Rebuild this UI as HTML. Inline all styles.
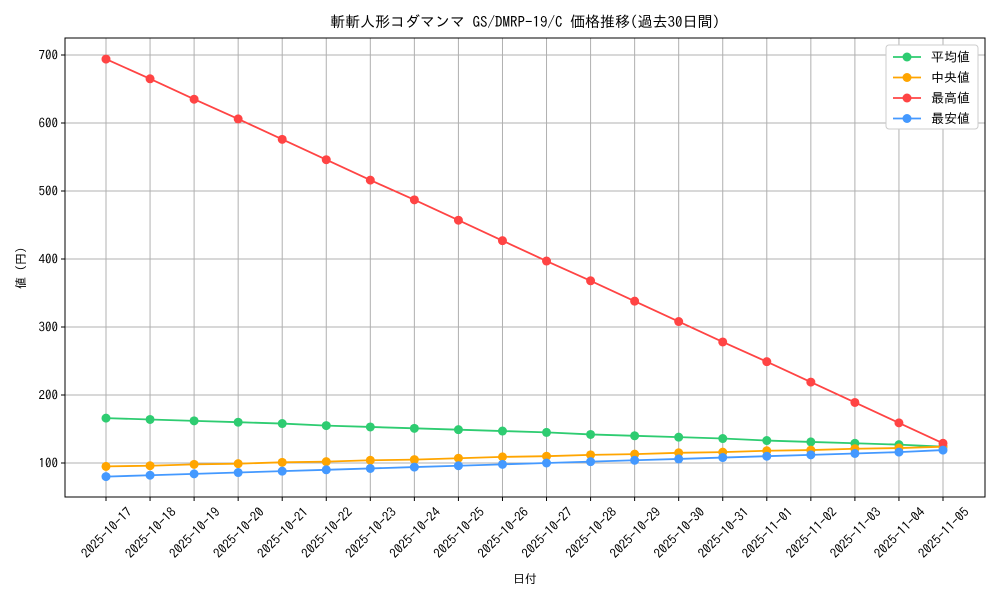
<!DOCTYPE html>
<html><head><meta charset="utf-8"><style>
body{margin:0;background:#fff;}
svg text{font-family:"IPAGothic","Noto Sans CJK JP",sans-serif;fill:#000;}
</style></head><body>
<svg id="chart" width="1000" height="600" xmlns="http://www.w3.org/2000/svg"></svg>
<script>
const dates=["2025-10-17","2025-10-18","2025-10-19","2025-10-20","2025-10-21","2025-10-22","2025-10-23","2025-10-24","2025-10-25","2025-10-26","2025-10-27","2025-10-28","2025-10-29","2025-10-30","2025-10-31","2025-11-01","2025-11-02","2025-11-03","2025-11-04","2025-11-05"];
const avgVals=[166,164,162,160,158,155,153,151,149,147,145,142,140,138,136,133,131,129,127,124];
const medVals=[95,96,98,99,101,102,104,105,107,109,110,112,113,115,116,118,119,121,122,124];
const maxVals=[694,665,635,606,576,546,516,487,457,427,397,368,338,308,278,249,219,189,159,129];
const minVals=[80,82,84,86,88,90,92,94,96,98,100,102,104,106,108,110,112,114,116,119];
const yTicks=[100,200,300,400,500,600,700];
const seriesNames=["平均値","中央値","最高値","最安値"];
const svg=document.getElementById('chart');
const NS="http://www.w3.org/2000/svg";
const L=65,R=985,T=38,B=497;
const x=i=>106+i*(943-106)/(dates.length-1);
const y=v=>463-(v-100)*0.68;
function mk(tag,attrs,parent){const e=document.createElementNS(NS,tag);for(const k in attrs)e.setAttribute(k,attrs[k]);(parent||svg).appendChild(e);return e;}
dates.forEach((d,i)=>{const g=mk('line',{x1:x(i),x2:x(i),y1:T,y2:B,stroke:'#b0b0b0','stroke-width':1});


mk('line',{x1:x(i),x2:x(i),y1:B,y2:B+4,stroke:'#000'});
const cx=x(i)+1,cy=533;
const t=mk('text',{x:cx,y:cy+4,'font-size':13,'text-anchor':'middle',transform:`rotate(-45 ${cx} ${cy})`});t.textContent=d;

});
yTicks.forEach(v=>{const g=mk('line',{x1:L,x2:R,y1:y(v),y2:y(v),stroke:'#b0b0b0','stroke-width':1});


mk('line',{x1:L-4,x2:L,y1:y(v),y2:y(v),stroke:'#000'});
const t=mk('text',{x:L-7,y:y(v)+4.5,'font-size':13,'text-anchor':'end'});t.textContent=v;

});
const frame=mk('rect',{x:L,y:T,width:R-L,height:B-T,fill:'none',stroke:'#000','stroke-width':1});


const colors=['#2ecc71','#ffa500','#ff4444','#4499ff'];
const all=[avgVals,medVals,maxVals,minVals];
all.forEach((vals,s)=>{const p=mk('polyline',{points:vals.map((v,i)=>x(i)+','+y(v)).join(' '),fill:'none',stroke:colors[s],'stroke-width':1.8});


vals.forEach((v,i)=>{const c=mk('circle',{cx:x(i),cy:y(v),r:4.5,fill:colors[s]});

});});
const title=mk('text',{x:525,y:27,'font-size':15,'text-anchor':'middle'});title.textContent='斬斬人形コダマンマ GS/DMRP-19/C 価格推移(過去30日間)';


const xl=mk('text',{x:525,y:583,'font-size':12,'text-anchor':'middle'});xl.textContent='日付';


const yl=mk('text',{x:25,y:268,'font-size':12,'text-anchor':'middle',transform:'rotate(-90 25 268)'});yl.textContent='値 (円)';


const lg=mk('rect',{x:886,y:45,width:92,height:84,fill:'#fff',stroke:'#ccc',rx:3});


seriesNames.forEach((n,s)=>{const yy=57+s*20.5;
mk('line',{x1:893,x2:921,y1:yy,y2:yy,stroke:colors[s],'stroke-width':1.8});
mk('circle',{cx:907,cy:yy,r:4.5,fill:colors[s]});
const t=mk('text',{x:931,y:yy+4.5,'font-size':13});t.textContent=n;

});
</script>
</body></html>
